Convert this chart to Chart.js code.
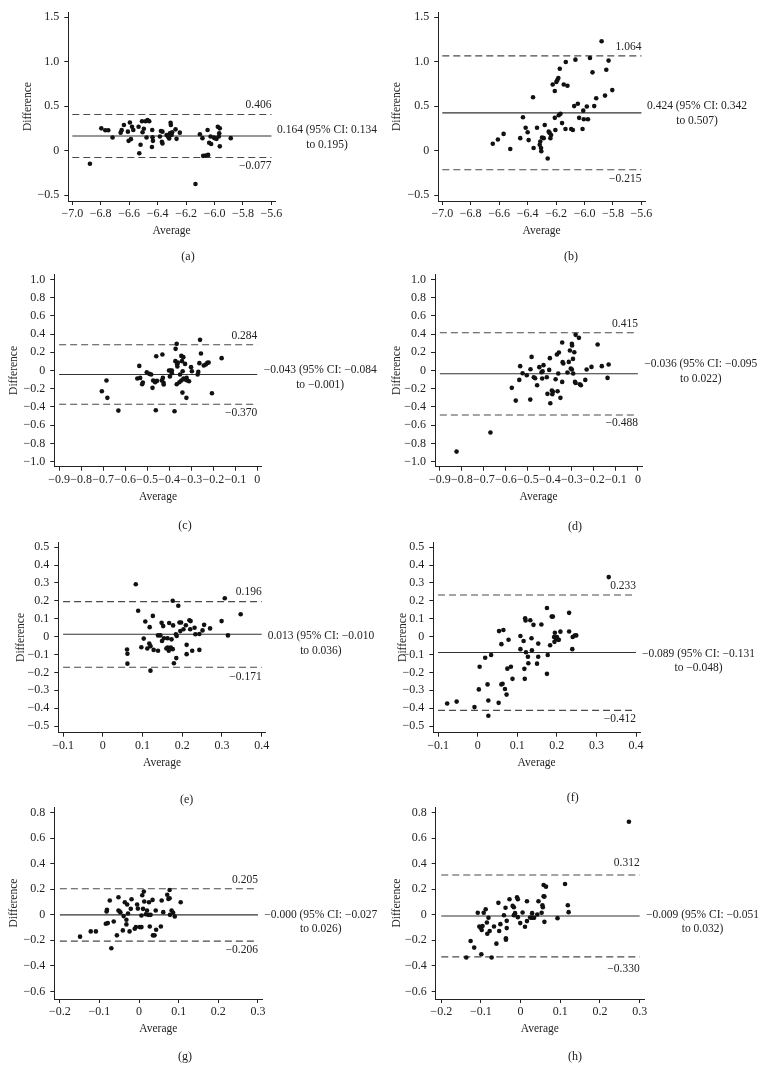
<!DOCTYPE html>
<html>
<head>
<meta charset="utf-8">
<script src="https://cdn.jsdelivr.net/npm/chart.js@4.4.1/dist/chart.umd.min.js"></script>
<style>
  body { margin: 0; background: #fff; width: 762px; height: 1080px; position: relative; overflow: hidden; }
  canvas { position: absolute; }
</style>
</head>
<body>
<script>
// Bland-Altman data: average (x) and difference (y)
const avgA = [-6.876,-6.796,-6.768,-6.747,-6.717,-6.66,-6.653,-6.637,-6.609,-6.604,-6.595,-6.588,-6.58,-6.571,-6.534,-6.529,-6.52,-6.51,-6.506,-6.497,-6.485,-6.478,-6.471,-6.459,-6.438,-6.436,-6.44,-6.433,-6.384,-6.377,-6.37,-6.366,-6.366,-6.337,-6.328,-6.319,-6.314,-6.309,-6.307,-6.302,-6.298,-6.274,-6.267,-6.244,-6.134,-6.103,-6.085,-6.08,-6.061,-6.049,-6.045,-6.038,-6.028,-6.024,-6.005,-5.998,-5.986,-5.977,-5.967,-5.963,-5.963,-5.886,-5.97];
const diffA = [-0.147,0.25,0.228,0.228,0.147,0.2,0.23,0.287,0.213,0.11,0.316,0.129,0.268,0.232,0.268,-0.03,0.066,0.33,0.206,0.246,0.33,0.147,0.342,0.33,0.232,0.15,0.04,0.11,0.158,0.22,0.099,0.213,0.081,0.176,0.158,0.136,0.195,0.312,0.287,0.176,0.206,0.239,0.132,0.202,-0.375,0.184,0.14,-0.059,-0.055,0.232,-0.048,0.088,0.158,0.074,0.147,0.14,0.132,0.268,0.195,0.25,0.048,0.14,0.158];

const avgB = [-6.645,-6.609,-6.569,-6.522,-6.452,-6.433,-6.414,-6.4,-6.393,-6.362,-6.358,-6.334,-6.315,-6.311,-6.306,-6.304,-6.299,-6.287,-6.28,-6.259,-6.252,-6.245,-6.24,-6.235,-6.224,-6.209,-6.209,-6.205,-6.198,-6.191,-6.184,-6.181,-6.174,-6.169,-6.158,-6.146,-6.134,-6.132,-6.12,-6.094,-6.082,-6.073,-6.064,-6.047,-6.038,-6.014,-6.009,-6.005,-5.984,-5.976,-5.962,-5.944,-5.932,-5.918,-5.88,-5.856,-5.847,-5.831,-5.805];
const diffB = [0.077,0.125,0.188,0.018,0.14,0.375,0.257,0.206,0.118,0.6,0.029,0.257,0.066,0.103,0.029,-0.007,0.147,0.14,0.287,-0.088,0.213,0.199,0.14,0.176,0.743,0.669,0.368,0.232,0.772,0.794,0.816,0.397,0.919,0.415,0.309,0.743,0.243,0.996,0.728,0.243,0.232,0.5,1.022,0.526,0.368,0.243,0.449,0.353,0.496,0.353,1.04,0.879,0.5,0.588,1.228,0.618,0.908,1.011,0.68];

const avgC = [-0.706,-0.685,-0.681,-0.631,-0.545,-0.536,-0.532,-0.523,-0.52,-0.502,-0.49,-0.482,-0.476,-0.473,-0.464,-0.461,-0.459,-0.456,-0.434,-0.431,-0.429,-0.426,-0.425,-0.401,-0.394,-0.397,-0.388,-0.388,-0.376,-0.372,-0.371,-0.366,-0.364,-0.363,-0.366,-0.361,-0.354,-0.351,-0.345,-0.345,-0.342,-0.34,-0.339,-0.336,-0.335,-0.328,-0.328,-0.322,-0.321,-0.318,-0.31,-0.301,-0.297,-0.271,-0.268,-0.263,-0.26,-0.256,-0.243,-0.234,-0.227,-0.221,-0.206,-0.162];
const diffC = [-0.227,-0.11,-0.3,-0.44,-0.088,0.051,-0.081,-0.15,-0.132,-0.018,-0.037,-0.044,-0.19,-0.11,-0.128,-0.436,0.157,-0.114,-0.11,0.176,-0.081,-0.135,-0.154,0,0,-0.066,0,-0.029,-0.447,0.103,0.238,0.293,0.07,0.044,-0.15,0.088,-0.128,-0.044,-0.11,0.161,0.103,-0.242,-0.007,0.147,-0.088,0.073,-0.099,-0.3,-0.081,-0.11,-0.117,0.037,-0.007,-0.044,-0.015,0.081,0.337,0.187,0.055,0.066,0.084,0.088,-0.249,0.136];

const avgD = [-0.573,-0.555,-0.539,-0.535,-0.524,-0.505,-0.489,-0.488,-0.483,-0.473,-0.467,-0.458,-0.448,-0.438,-0.435,-0.433,-0.429,-0.414,-0.411,-0.403,-0.4,-0.398,-0.391,-0.389,-0.386,-0.374,-0.368,-0.365,-0.362,-0.359,-0.352,-0.344,-0.344,-0.342,-0.339,-0.32,-0.314,-0.309,-0.305,-0.3,-0.3,-0.299,-0.295,-0.294,-0.289,-0.286,-0.283,-0.283,-0.268,-0.264,-0.259,-0.239,-0.233,-0.211,-0.183,-0.164,-0.138,-0.133,-0.67,-0.824];
const diffD = [-0.19,-0.33,-0.103,0.048,-0.029,-0.051,-0.319,0.015,0.15,-0.073,-0.084,-0.161,0.037,-0.018,-0.088,-0.007,0.059,-0.073,-0.256,0.007,0.136,-0.359,-0.22,-0.26,-0.234,-0.095,0.176,-0.227,-0.033,0.198,-0.3,0.308,-0.125,0.092,0.077,-0.022,0.095,0.22,0.022,0.011,0.293,0.275,0.128,-0.033,0.201,-0.125,-0.136,0.392,0.359,-0.15,-0.161,-0.103,0.011,0.04,0.286,0.048,-0.081,0.066,-0.681,-0.89];

const avgE = [0.083,0.089,0.107,0.118,0.126,0.061,0.062,0.062,0.097,0.103,0.112,0.117,0.12,0.12,0.128,0.139,0.139,0.145,0.148,0.149,0.152,0.154,0.16,0.163,0.163,0.166,0.167,0.171,0.173,0.176,0.176,0.177,0.179,0.184,0.186,0.185,0.19,0.193,0.195,0.197,0.203,0.209,0.211,0.211,0.218,0.22,0.221,0.225,0.231,0.233,0.243,0.243,0.251,0.255,0.27,0.299,0.307,0.315,0.347];
const diffE = [0.293,0.145,0.085,0.053,0.116,-0.072,-0.096,-0.151,-0.059,-0.011,-0.066,-0.039,-0.19,-0.053,-0.074,0.007,-0.079,0.007,0.077,-0.024,0.059,-0.009,-0.066,-0.061,-0.009,-0.079,0.076,-0.061,-0.015,0.201,-0.07,0.063,-0.149,0.013,0.004,-0.12,0.173,0.079,0.031,0.079,0.041,0.064,-0.046,-0.098,0.092,0.041,0.087,-0.079,0.05,0.013,0.015,-0.074,0.035,0.066,0.046,0.087,0.215,0.007,0.125];

const avgF = [-0.077,-0.053,-0.008,0.003,0.005,0.019,0.025,0.027,0.027,0.034,0.053,0.054,0.06,0.06,0.063,0.065,0.069,0.073,0.075,0.078,0.084,0.088,0.108,0.108,0.116,0.118,0.119,0.12,0.121,0.122,0.127,0.128,0.133,0.136,0.137,0.141,0.15,0.153,0.153,0.161,0.175,0.175,0.177,0.183,0.187,0.19,0.193,0.194,0.195,0.198,0.2,0.202,0.205,0.209,0.231,0.231,0.239,0.24,0.245,0.249,0.331];
const diffF = [-0.374,-0.363,-0.394,-0.295,-0.168,-0.118,-0.267,-0.357,-0.442,-0.103,-0.37,0.031,-0.042,-0.267,-0.263,0.037,-0.293,-0.324,-0.179,-0.017,-0.168,-0.236,0.004,-0.07,-0.024,-0.18,-0.236,0.103,0.09,-0.087,-0.112,-0.149,0.092,-0.009,-0.076,0.066,-0.151,-0.039,-0.112,0.068,0.16,-0.208,-0.103,-0.048,0.112,0.112,-0.002,-0.029,0.022,-0.013,-0.002,-0.015,-0.018,0.028,0.133,0.029,-0.07,-0.002,0.006,0.007,0.333];

const avgG = [-0.149,-0.122,-0.109,-0.084,-0.082,-0.081,-0.079,-0.074,-0.07,-0.064,-0.056,-0.052,-0.052,-0.049,-0.047,-0.041,-0.039,-0.036,-0.032,-0.032,-0.03,-0.028,-0.024,-0.021,-0.019,-0.011,-0.008,-0.005,-0.003,0.002,0.006,0.006,0.008,0.01,0.012,0.013,0.017,0.02,0.023,0.025,0.027,0.029,0.034,0.035,0.039,0.042,0.043,0.055,0.057,0.061,0.071,0.074,0.077,0.077,0.078,0.082,0.086,0.09,0.105];
const diffG = [-0.171,-0.13,-0.13,-0.07,0.026,0.039,-0.065,0.112,-0.262,-0.052,-0.161,0.138,0.034,0.026,0.018,-0.122,-0.01,0.099,-0.075,-0.039,0.081,0.01,-0.13,0.047,0.122,-0.109,-0.096,0.081,0.049,-0.096,-0.005,-0.096,0.153,0.047,0.182,0.104,0.005,0.034,0,0.099,-0.091,0,0.117,-0.161,-0.161,0.034,-0.117,-0.091,0.112,0.021,0.158,0.125,0.195,0.13,0,0.034,0.016,-0.013,0.099];

const avgH = [-0.137,-0.126,-0.117,-0.108,-0.104,-0.101,-0.099,-0.098,-0.096,-0.093,-0.088,-0.085,-0.084,-0.081,-0.078,-0.073,-0.067,-0.061,-0.056,-0.054,-0.051,-0.042,-0.037,-0.037,-0.038,-0.035,-0.035,-0.028,-0.02,-0.017,-0.017,-0.014,-0.009,-0.007,-0.007,-0.001,0.005,0.011,0.016,0.016,0.024,0.027,0.029,0.031,0.034,0.042,0.045,0.053,0.055,0.056,0.058,0.058,0.06,0.06,0.064,0.093,0.112,0.119,0.121,0.273];
const diffH = [-0.335,-0.205,-0.257,0.016,-0.091,-0.101,-0.309,-0.119,-0.088,0.016,0.044,-0.06,-0.148,-0.023,-0.127,-0.335,-0.091,-0.226,0.094,-0.127,-0.073,-0.003,-0.184,-0.195,0.055,-0.104,-0.047,0.122,0.07,0.06,-0.003,0.013,0.138,0.122,-0.018,-0.065,0.018,-0.094,0.106,-0.049,-0.021,-0.023,0.013,-0.023,-0.023,0.003,0.106,0.016,0.075,0.06,0.234,0.145,-0.055,0.143,0.221,-0.026,0.242,0.075,0.021,0.73];

// mean difference, its 95% CI and limits of agreement, panels a..h
const means    = [0.164, 0.424, -0.043, -0.036, 0.013, -0.089, -0.0004, -0.009];
const ciLow    = [0.134, 0.342, -0.084, -0.095, -0.010, -0.131, -0.027, -0.051];
const ciHigh   = [0.195, 0.507, -0.001, 0.022, 0.036, -0.048, 0.026, 0.032];
const loaUpper = [0.406, 1.064, 0.284, 0.415, 0.196, 0.233, 0.205, 0.312];
const loaLower = [-0.077, -0.215, -0.370, -0.488, -0.171, -0.412, -0.206, -0.330];
const captions = ['(a)', '(b)', '(c)', '(d)', '(e)', '(f)', '(g)', '(h)'];

// tick labels and axis ranges, one pair per row of panels
const xTicksAB = [-7.0, -6.8, -6.6, -6.4, -6.2, -6.0, -5.8, -5.6];
const yTicksAB = [-0.5, 0, 0.5, 1.0, 1.5];
const xTicksCD = [-0.9, -0.8, -0.7, -0.6, -0.5, -0.4, -0.3, -0.2, -0.1, 0];
const yTicksCD = [-1.0, -0.8, -0.6, -0.4, -0.2, 0, 0.2, 0.4, 0.6, 0.8, 1.0];
const xTicksEF = [-0.1, 0, 0.1, 0.2, 0.3, 0.4];
const yTicksEF = [-0.5, -0.4, -0.3, -0.2, -0.1, 0, 0.1, 0.2, 0.3, 0.4, 0.5];
const xTicksGH = [-0.2, -0.1, 0, 0.1, 0.2, 0.3];
const yTicksGH = [-0.6, -0.4, -0.2, 0, 0.2, 0.4, 0.6, 0.8];

const xRangeAB = [-7.028, -5.575], yRangeAB = [-0.566, 1.555];
const xRangeCD = [-0.922, 0.02],   yRangeCD = [-1.056, 1.058];
const xRangeEF = [-0.112, 0.41],   yRangeEF = [-0.537, 0.528];
const xRangeGH = [-0.214, 0.311],  yRangeGH = [-0.66, 0.844];

const panels = [
  { avg: avgA, diff: diffA, xt: xTicksAB, yt: yTicksAB, xr: xRangeAB, yr: yRangeAB },
  { avg: avgB, diff: diffB, xt: xTicksAB, yt: yTicksAB, xr: xRangeAB, yr: yRangeAB },
  { avg: avgC, diff: diffC, xt: xTicksCD, yt: yTicksCD, xr: xRangeCD, yr: yRangeCD },
  { avg: avgD, diff: diffD, xt: xTicksCD, yt: yTicksCD, xr: xRangeCD, yr: yRangeCD },
  { avg: avgE, diff: diffE, xt: xTicksEF, yt: yTicksEF, xr: xRangeEF, yr: yRangeEF },
  { avg: avgF, diff: diffF, xt: xTicksEF, yt: yTicksEF, xr: xRangeEF, yr: yRangeEF },
  { avg: avgG, diff: diffG, xt: xTicksGH, yt: yTicksGH, xr: xRangeGH, yr: yRangeGH },
  { avg: avgH, diff: diffH, xt: xTicksGH, yt: yTicksGH, xr: xRangeGH, yr: yRangeGH }
];

// page layout (px): canvas box, plot area [left, top, right, bottom], y title x, caption spot
const layout = [
  { left: 0,   top: 0,   w: 381, h: 270, area: [68.3, 8.3, 275, 201],     titleX: 28.3,  cap: [188, 257],    meanDy: -6,   limDy: 9 },
  { left: 381, top: 0,   w: 381, h: 270, area: [438.3, 8.3, 645, 201],    titleX: 397.3, cap: [571, 257],    meanDy: -6.5, limDy: 9 },
  { left: 0,   top: 262, w: 381, h: 275, area: [54.3, 274, 261.7, 466.7], titleX: 14,    cap: [185, 526],    meanDy: -4,   limDy: 8.5 },
  { left: 381, top: 262, w: 381, h: 275, area: [435, 274, 642.3, 466.7],  titleX: 396.7, cap: [575, 526.7],  meanDy: -9.5, limDy: 8.5 },
  { left: 0,   top: 530, w: 381, h: 280, area: [58.3, 540, 265.7, 732.7], titleX: 20.7,  cap: [186.7, 800],  meanDy: 2,    limDy: 9.3 },
  { left: 381, top: 530, w: 381, h: 280, area: [433.3, 540, 640, 732.7],  titleX: 402.7, cap: [572.7, 798],  meanDy: 1,    limDy: 9 },
  { left: 0,   top: 795, w: 381, h: 285, area: [54.3, 805, 262.3, 999],   titleX: 14,    cap: [185, 1056.7], meanDy: 0,    limDy: 9 },
  { left: 381, top: 795, w: 381, h: 285, area: [435.7, 805, 644, 999],    titleX: 397.3, cap: [575, 1056.7], meanDy: -1,   limDy: 12 }
];

const FONT = '"Liberation Serif", "DejaVu Serif", serif';
const INK = '#222';
Chart.defaults.font.family = FONT;
Chart.defaults.font.size = 12;
Chart.defaults.color = INK;
const titleFont = { size: 11.5 };

const fmt1 = v => v === 0 ? '0' : v.toFixed(1).replace('-', '\u2212');
const fmt3 = v => v.toFixed(3).replace('-', '\u2212');

const labelPlugin = {
  id: 'baLabels',
  afterDatasetsDraw(chart, args, opts) {
    const i = opts.index, L = layout[i], P = panels[i];
    const { ctx, chartArea } = chart;
    const x = chart.scales.x, y = chart.scales.y;
    const xEnd = x.getPixelForValue(P.xt[P.xt.length - 1]);
    ctx.save();
    ctx.fillStyle = INK;
    ctx.font = '11.5px ' + FONT;
    ctx.textBaseline = 'middle';
    ctx.textAlign = 'right';
    ctx.fillText(fmt3(loaUpper[i]), xEnd, y.getPixelForValue(loaUpper[i]) - L.limDy);
    ctx.fillText(fmt3(loaLower[i]), xEnd, y.getPixelForValue(loaLower[i]) + L.limDy);

    const line1 = fmt3(means[i]) + ' (95% CI: ' + fmt3(ciLow[i]);
    const line2 = 'to ' + fmt3(ciHigh[i]) + ')';
    const lx = chartArea.right + 2;
    const ly = y.getPixelForValue(means[i]) + L.meanDy;
    ctx.textAlign = 'left';
    ctx.fillText(line1, lx, ly);
    const w = ctx.measureText(line1).width;
    ctx.textAlign = 'center';
    ctx.fillText(line2, lx + w / 2, ly + 14.5);

    ctx.font = '12px ' + FONT;
    ctx.fillText(captions[i], L.cap[0] - L.left, L.cap[1] - L.top);
    ctx.restore();
  }
};

function hLine(P, v, dashed) {
  return {
    data: [{ x: P.xt[0], y: v }, { x: P.xt[P.xt.length - 1], y: v }],
    showLine: true,
    pointRadius: 0,
    borderColor: dashed ? '#4a4a4a' : '#333',
    borderWidth: 1.1,
    borderDash: dashed ? [7, 4] : []
  };
}

const TITLE_HALF = 6.9;   // half the line height of the axis titles
const X_BOX = 36.9;       // height of the x axis box

panels.forEach((P, i) => {
  const L = layout[i];
  const [aL, aT, aR, aB] = L.area;
  const yW = aL - L.titleX + TITLE_HALF;

  const canvas = document.createElement('canvas');
  canvas.width = L.w;
  canvas.height = L.h;
  canvas.style.left = L.left + 'px';
  canvas.style.top = L.top + 'px';
  canvas.style.width = L.w + 'px';
  canvas.style.height = L.h + 'px';
  document.body.appendChild(canvas);

  new Chart(canvas, {
    type: 'scatter',
    data: {
      datasets: [
        {
          data: P.avg.map((a, k) => ({ x: a, y: P.diff[k] })),
          pointRadius: 2.3,
          pointBackgroundColor: '#111',
          pointBorderColor: '#111',
          pointBorderWidth: 0
        },
        hLine(P, means[i], false),
        hLine(P, loaUpper[i], true),
        hLine(P, loaLower[i], true)
      ]
    },
    options: {
      responsive: false,
      animation: false,
      events: [],
      layout: {
        padding: {
          left: aL - L.left - yW,
          top: aT - L.top,
          right: L.left + L.w - aR,
          bottom: L.top + L.h - aB - X_BOX
        }
      },
      plugins: {
        legend: { display: false },
        tooltip: { enabled: false },
        baLabels: { index: i }
      },
      scales: {
        x: {
          type: 'linear',
          min: P.xr[0],
          max: P.xr[1],
          afterBuildTicks: s => { s.ticks = P.xt.map(v => ({ value: v })); },
          afterFit: s => { s.height = X_BOX; },
          grid: { drawOnChartArea: false, drawTicks: true, tickLength: 4, color: INK },
          border: { display: true, color: INK, width: 1 },
          ticks: { padding: 2, autoSkip: false, maxRotation: 0, callback: v => fmt1(v) },
          title: { display: true, text: 'Average', padding: 0, font: titleFont }
        },
        y: {
          type: 'linear',
          min: P.yr[0],
          max: P.yr[1],
          afterBuildTicks: s => { s.ticks = P.yt.map(v => ({ value: v })); },
          afterFit: s => { s.width = yW; },
          grid: { drawOnChartArea: false, drawTicks: true, tickLength: 4, color: INK },
          border: { display: true, color: INK, width: 1 },
          ticks: { padding: 5, autoSkip: false, callback: v => fmt1(v) },
          title: { display: true, text: 'Difference', padding: 0, font: titleFont }
        }
      }
    },
    plugins: [labelPlugin]
  });
});
</script>
</body>
</html>
